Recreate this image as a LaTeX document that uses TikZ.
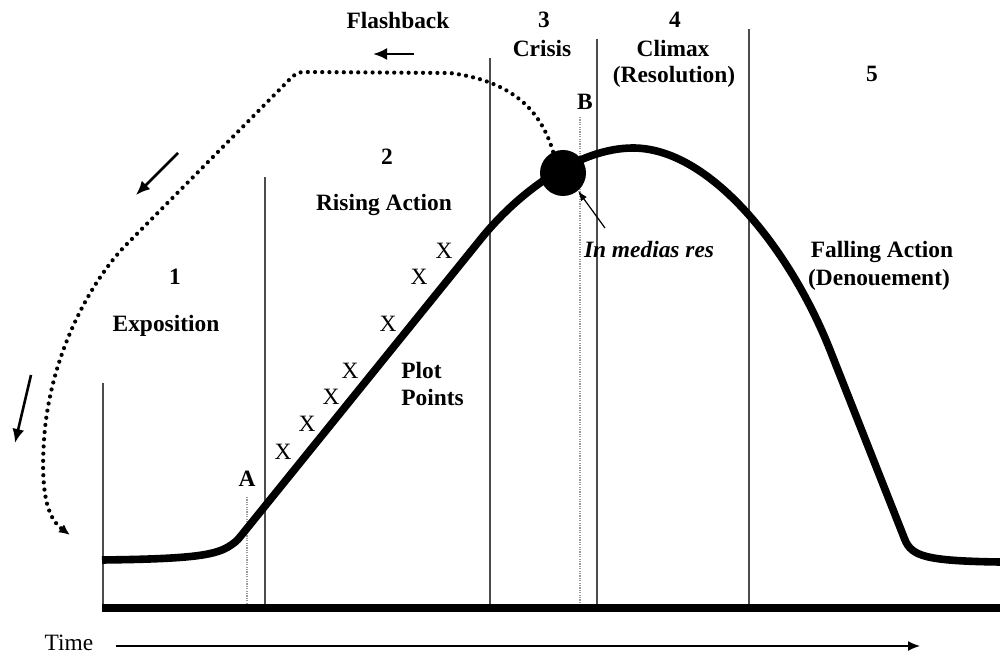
\documentclass[tikz,border=0pt]{standalone}
\usepackage{fontspec}
\setmainfont{Liberation Serif}
\usetikzlibrary{arrows.meta}
\begin{document}
\begin{tikzpicture}[x=0.5pt,y=-0.5pt,
  lbl/.style={font=\fontsize{11.7pt}{13.5pt}\selectfont\bfseries, inner sep=0pt, anchor=base},
  plain/.style={font=\fontsize{11.7pt}{13.5pt}\selectfont, inner sep=0pt},
  divider/.style={draw=black!70, line width=0.75pt},
  marker/.style={draw=black!40, line width=0.6pt, dash pattern=on 0.6pt off 0.6pt},
  story/.style={line width=3.8pt, line join=round, line cap=butt},
  flash/.style={line width=2.1pt, line cap=round, dash pattern=on 0pt off 3.6pt},
  cue/.style={line width=1.3pt, -{Latex[length=7pt,width=6pt]}},
]
\useasboundingbox (0,0) rectangle (1000,656);

% section dividers
\draw[divider] (103,383) -- (103,606);
\draw[divider] (265,177) -- (265,606);
\draw[divider] (490,58) -- (490,606);
\draw[divider] (597,39) -- (597,606);
\draw[divider] (749,29) -- (749,606);

% markers A and B
\draw[marker] (247,497) -- (247,606);
\draw[marker] (580,117) -- (580,606);

% time base line
\draw[line width=4pt] (102,608) -- (1000,608);

% dramatic arc
\draw[story] (102,560) .. controls (185,559) and (213,556) .. (228,547)
  .. controls (233,544) and (237,541) .. (240,537) -- (480,240)
  .. controls (520,190) and (580,148) .. (633,148)
  .. controls (710,148) and (790,249) .. (830,350) -- (905,540)
  .. controls (912,556) and (925,561) .. (1000,562);

% in medias res point
\node[circle, fill=black, minimum size=23pt, inner sep=0pt] (crux) at (563,173) {};

% flashback loop
\draw[flash, -{Latex[length=5.5pt,width=5pt]}] (crux.115)
  .. controls (543,118) and (520,82) .. (450,73) -- (305,72)
  .. controls (298,72) and (295,74) .. (290,79) -- (125,246)
  .. controls (95,277) and (50,350) .. (44,440)
  .. controls (40,500) and (50,520) .. (70,535);

% direction cues
\coordinate (fbA) at (414,54);  \coordinate (fbB) at (373,54);
\coordinate (fbC) at (178,153); \coordinate (fbD) at (136,195);
\coordinate (fbE) at (31,375);  \coordinate (fbF) at (15,443);
\draw[cue] (fbA) -- (fbB);
\draw[cue] (fbC) -- (fbD);
\draw[cue] (fbE) -- (fbF);

% labels
\node[lbl] (flashback) at (398,29) {Flashback};
\node[lbl] (n3) at (544,28) {3};
\node[lbl] (crisis) at (542,57) {Crisis};
\node[lbl] (n4) at (675,28) {4};
\node[lbl] (climax) at (673,57) {Climax};
\node[lbl] (resol) at (674,83) {(Resolution)};
\node[lbl] (n5) at (872,82) {5};
\node[lbl] (lblB) at (585,110) {B};
\node[lbl] (n2) at (387,165) {2};
\node[lbl] (rising) at (384,211) {Rising Action};
\node[lbl] (n1) at (175,285) {1};
\node[lbl] (expo) at (166,332) {Exposition};
\node[lbl, font=\fontsize{11.7pt}{13.5pt}\selectfont\bfseries\itshape] (imr) at (649,258) {In medias res};
\node[lbl] (falling) at (882,258) {Falling Action};
\node[lbl] (denoue) at (879,286) {(Denouement)};
\node[lbl, anchor=base west] (plot) at (401,379) {Plot};
\node[lbl, anchor=base west] (points) at (401,406) {Points};
\node[lbl] (lblA) at (247,487) {A};

% plot points
\foreach \px/\py [count=\k] in {283/452,307/424,331/397,350/371,388/324,419/277,444/251}
  \node[plain] (x\k) at (\px,\py) {X};

% pointer to the in medias res point
\coordinate (imrtail) at (605,228);
\draw[line width=0.6pt, -{Latex[length=5pt,width=3.5pt]}] (imrtail) -- (crux.-50);

% time axis
\node[plain, anchor=base] (time) at (69,650) {Time};
\coordinate (tstart) at (116,646);
\coordinate (tend) at (920,646);
\draw[line width=0.7pt, -{Latex[length=6pt,width=5pt]}] (tstart) -- (tend);
\end{tikzpicture}
\end{document}
